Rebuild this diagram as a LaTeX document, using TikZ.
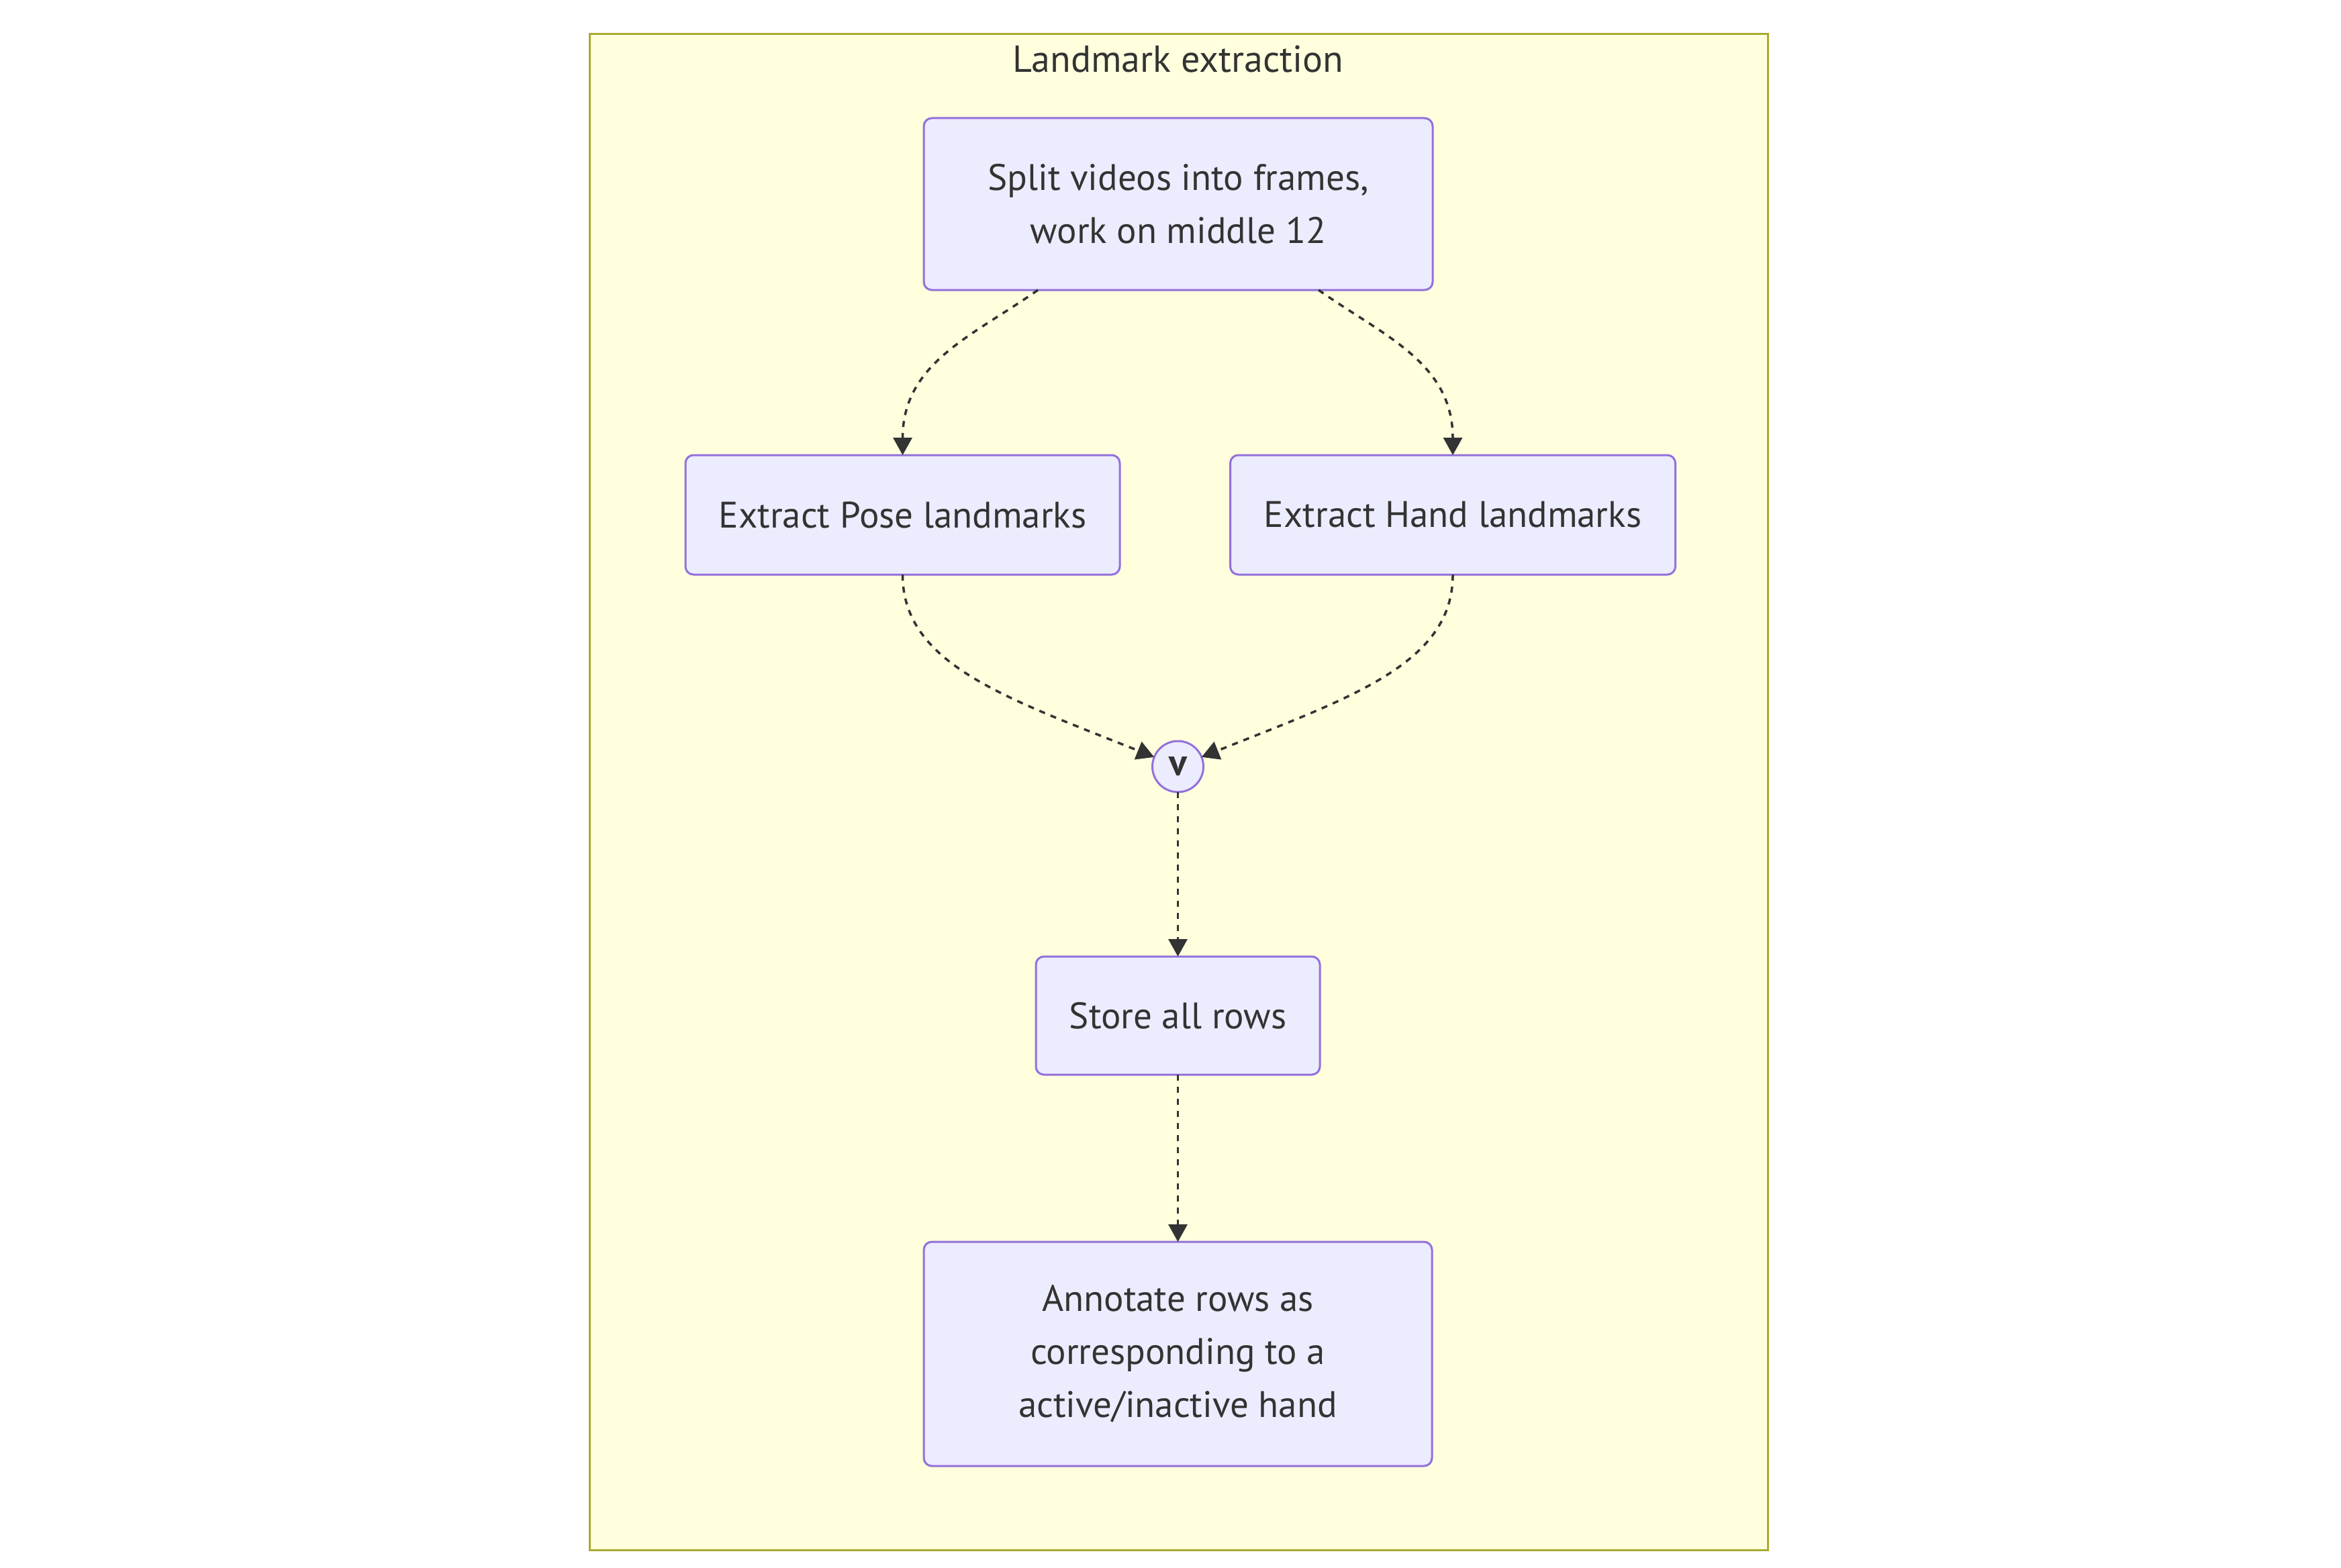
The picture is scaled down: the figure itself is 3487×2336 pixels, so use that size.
\documentclass[tikz,border=0pt]{standalone}
\usepackage{fontspec}
\setmainfont{PT Sans}
\usetikzlibrary{arrows.meta}
\definecolor{nodefill}{HTML}{ECECFF}
\definecolor{nodeline}{HTML}{9370DB}
\definecolor{clusterfill}{HTML}{FFFFDE}
\definecolor{clusterline}{HTML}{AAAA33}
\definecolor{ink}{HTML}{333333}
\tikzset{
  box/.style={draw=nodeline, fill=nodefill, line width=3pt, rounded corners=12pt,
    inner sep=0pt, outer sep=0pt, align=center, text=ink,
    font=\fontsize{55}{79}\selectfont},
  junction/.style={draw=nodeline, fill=nodefill, line width=3pt, circle,
    minimum size=76pt, inner sep=0pt, outer sep=0pt, text=ink,
    font=\fontsize{56}{60}\selectfont\bfseries},
  link/.style={draw=ink, line width=3.5pt, dash pattern=on 9pt off 9pt,
    -{Triangle[length=26pt,width=28pt]}},
}
\begin{document}
\begin{tikzpicture}[x=1pt,y=-1pt]
\useasboundingbox (0,0) rectangle (3487,2336);
\fill[white] (0,0) rectangle (3487,2336);
% cluster
\node[draw=clusterline, fill=clusterfill, line width=3pt, inner sep=0pt,
  minimum width=1755pt, minimum height=2258pt] (frame) at (1755.5,1180) {};
\node[text=ink, font=\fontsize{56}{60}\selectfont, anchor=base] (title) at (1755,108) {Landmark extraction};
% nodes
\node[box, minimum width=758pt, minimum height=256pt] (split) at (1755,304)
  {Split videos into frames,\\work on middle 12};
\node[box, minimum width=647pt, minimum height=178pt] (pose) at (1344.5,767)
  {Extract Pose landmarks};
\node[box, minimum width=663pt, minimum height=178pt] (hand) at (2164,767)
  {Extract Hand landmarks};
\node[junction] (v) at (1754.5,1142) {v};
\node[box, minimum width=423pt, minimum height=176pt] (store) at (1754.5,1513)
  {Store all rows};
\node[box, minimum width=757pt, minimum height=334pt] (annot) at (1754.5,2017)
  {Annotate rows as\\corresponding to a\\active/inactive hand};
% connectors
\draw[link] ([xshift=-209pt]split.south) .. controls (1450,500) and (1344.5,540) .. (pose.north);
\draw[link] ([xshift=209pt]split.south) .. controls (2060,500) and (2164,540) .. (hand.north);
\draw[link] (pose.south) .. controls (1344.5,990) and (1500,1040) .. (v);
\draw[link] (hand.south) .. controls (2164,990) and (2009,1040) .. (v);
\draw[link] (v.south) -- (store.north);
\draw[link] (store.south) -- (annot.north);
\end{tikzpicture}
\end{document}
